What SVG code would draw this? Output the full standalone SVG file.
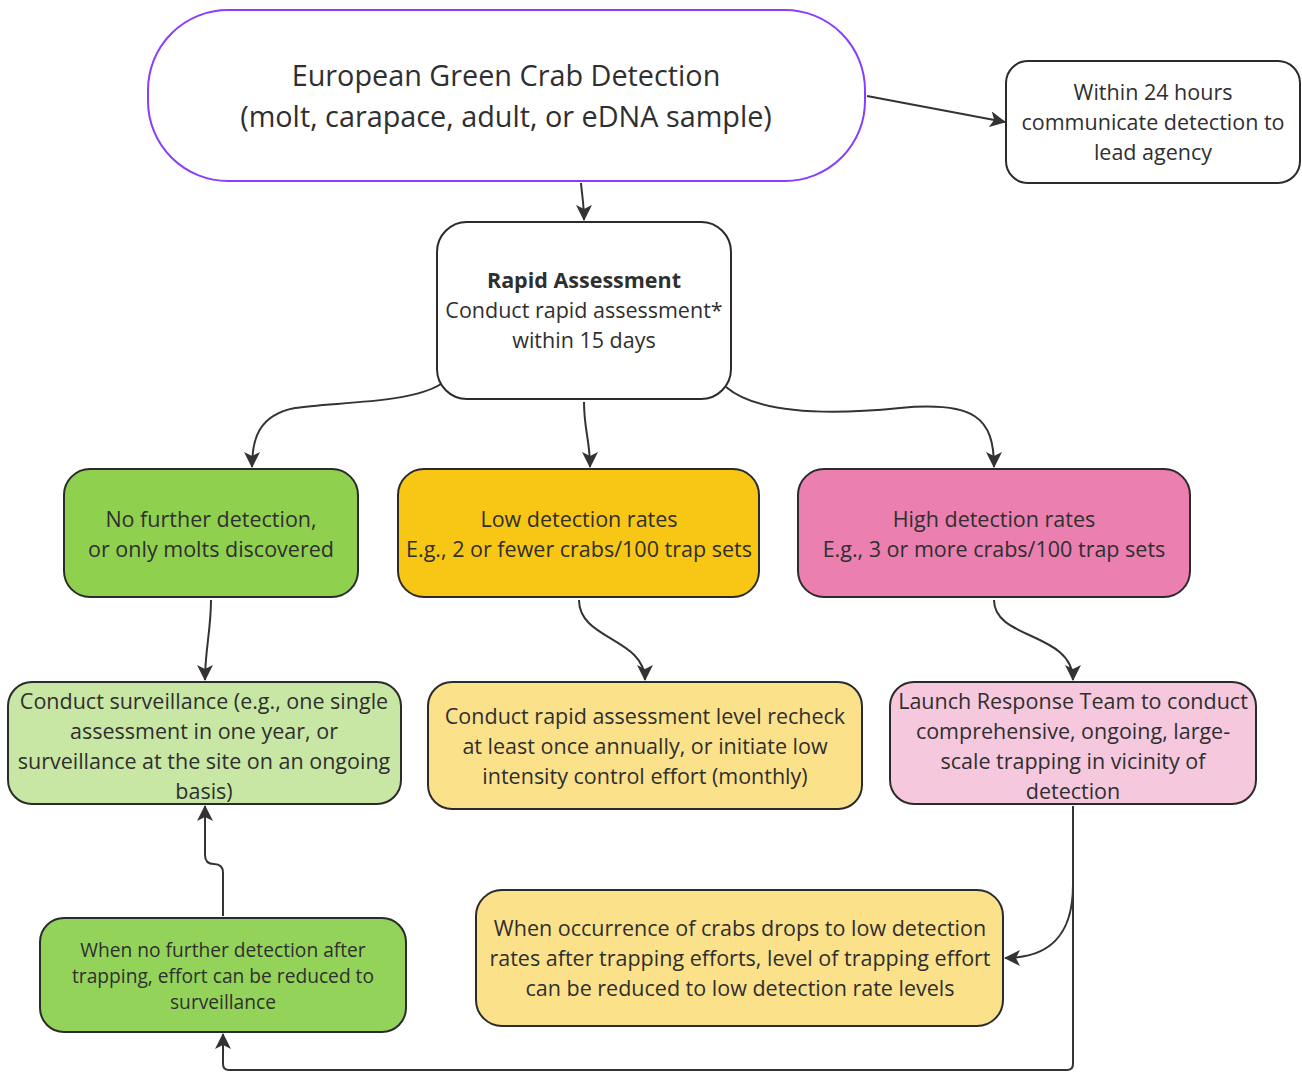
<svg xmlns="http://www.w3.org/2000/svg" width="1302" height="1072" viewBox="0 0 1302 1072">
  <defs>
    <marker id="arrow" viewBox="0 0 16 16" refX="15" refY="8" markerWidth="16" markerHeight="16" markerUnits="userSpaceOnUse" orient="auto">
      <path d="M0,0 L16,8 L0,16 L4,8 Z" fill="#333333"/>
    </marker>
    <style>
      .box { stroke: #2b2b2b; stroke-width: 2; }
      .t { font-family: "Open Sans", "Noto Sans", "Liberation Sans", sans-serif; font-size: 21.5px; fill: #2f2f2f; text-anchor: middle; }
      .big { font-size: 28.8px; }
      .small { font-size: 19.2px; }
      .b { font-weight: bold; }
      .edge { fill: none; stroke: #333333; stroke-width: 2; marker-end: url(#arrow); }
    </style>
  </defs>
  <rect width="1302" height="1072" fill="#ffffff"/>

  <!-- connectors -->
  <g id="connectors">
    <path class="edge" d="M867,96 L1005,122"/>
    <path class="edge" d="M581,183 C582,195 584,205 584,220"/>
    <path class="edge" d="M441,384 C410,404 330,402 295,408 C258,415 252,440 252,467"/>
    <path class="edge" d="M584,402 C584,430 590,440 590,467"/>
    <path class="edge" d="M726,387 C760,416 840,414 900,408 C975,401 994,418 994,467"/>
    <path class="edge" d="M211,600 C211,630 205,650 205,680"/>
    <path class="edge" d="M579,600 C579,640 645,638 645,680"/>
    <path class="edge" d="M994,600 C994,640 1073,632 1073,680"/>
    <path class="edge" d="M1073,806 L1073,885 C1073,935 1050,958 1005,958"/>
    <path class="edge" d="M1073,806 L1073,1064 Q1073,1070 1067,1070 L229,1070 Q223,1070 223,1064 L223,1034"/>
    <path class="edge" d="M223,916 L223,873 Q223,864 214,864 Q205,864 205,855 L205,806"/>
  </g>

  <!-- European Green Crab Detection -->
  <g id="node-detection">
    <rect x="148" y="10" width="717" height="171" rx="80" ry="80" fill="#ffffff" stroke="#8b3dff" stroke-width="2"/>
    <text class="t big" x="506" y="86">European Green Crab Detection</text>
    <text class="t big" x="506" y="127">(molt, carapace, adult, or eDNA sample)</text>
  </g>

  <!-- Communicate within 24 hours -->
  <g id="node-communicate">
    <rect class="box" x="1006" y="61" width="294" height="122" rx="22" fill="#ffffff"/>
    <text class="t" x="1153" y="100">Within 24 hours</text>
    <text class="t" x="1153" y="130">communicate detection to</text>
    <text class="t" x="1153" y="160">lead agency</text>
  </g>

  <!-- Rapid Assessment -->
  <g id="node-rapid">
    <rect class="box" x="437" y="222" width="294" height="177" rx="30" fill="#ffffff"/>
    <text class="t b" x="584" y="288">Rapid Assessment</text>
    <text class="t" x="584" y="318">Conduct rapid assessment*</text>
    <text class="t" x="584" y="348">within 15 days</text>
  </g>

  <!-- No further detection -->
  <g id="node-none">
    <rect class="box" x="64" y="469" width="294" height="128" rx="26" fill="#8fd14f"/>
    <text class="t" x="211" y="527">No further detection,</text>
    <text class="t" x="211" y="557">or only molts discovered</text>
  </g>

  <!-- Low detection rates -->
  <g id="node-low">
    <rect class="box" x="398" y="469" width="361" height="128" rx="26" fill="#f8c614"/>
    <text class="t" x="579" y="527">Low detection rates</text>
    <text class="t" x="579" y="557">E.g., 2 or fewer crabs/100 trap sets</text>
  </g>

  <!-- High detection rates -->
  <g id="node-high">
    <rect class="box" x="798" y="469" width="392" height="128" rx="26" fill="#ea7fb0"/>
    <text class="t" x="994" y="527">High detection rates</text>
    <text class="t" x="994" y="557">E.g., 3 or more crabs/100 trap sets</text>
  </g>

  <!-- Conduct surveillance -->
  <g id="node-surveillance">
    <rect class="box" x="8" y="682" width="393" height="122" rx="24" fill="#c9e7a4"/>
    <text class="t" x="204" y="709">Conduct surveillance (e.g., one single</text>
    <text class="t" x="204" y="739">assessment in one year, or</text>
    <text class="t" x="204" y="769">surveillance at the site on an ongoing</text>
    <text class="t" x="204" y="799">basis)</text>
  </g>

  <!-- Recheck / low intensity control -->
  <g id="node-recheck">
    <rect class="box" x="428" y="682" width="434" height="127" rx="24" fill="#fbe18a"/>
    <text class="t" x="645" y="724">Conduct rapid assessment level recheck</text>
    <text class="t" x="645" y="754">at least once annually, or initiate low</text>
    <text class="t" x="645" y="784">intensity control effort (monthly)</text>
  </g>

  <!-- Launch Response Team -->
  <g id="node-response">
    <rect class="box" x="890" y="682" width="366" height="122" rx="24" fill="#f6c8de"/>
    <text class="t" x="1073" y="709">Launch Response Team to conduct</text>
    <text class="t" x="1073" y="739">comprehensive, ongoing, large-</text>
    <text class="t" x="1073" y="769">scale trapping in vicinity of</text>
    <text class="t" x="1073" y="799">detection</text>
  </g>

  <!-- Reduce to low detection rate levels -->
  <g id="node-reduce-low">
    <rect class="box" x="476" y="890" width="527" height="136" rx="26" fill="#fbe18a"/>
    <text class="t" x="740" y="936">When occurrence of crabs drops to low detection</text>
    <text class="t" x="740" y="966">rates after trapping efforts, level of trapping effort</text>
    <text class="t" x="740" y="996">can be reduced to low detection rate levels</text>
  </g>

  <!-- Reduce to surveillance -->
  <g id="node-reduce-surveillance">
    <rect class="box" x="40" y="918" width="366" height="114" rx="24" fill="#93d35a"/>
    <text class="t small" x="223" y="957">When no further detection after</text>
    <text class="t small" x="223" y="983">trapping, effort can be reduced to</text>
    <text class="t small" x="223" y="1009">surveillance</text>
  </g>
</svg>
